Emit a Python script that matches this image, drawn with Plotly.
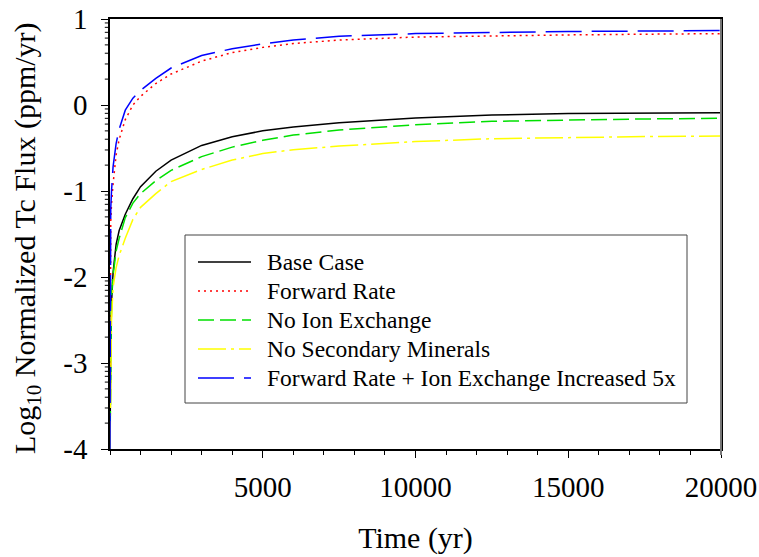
import math
import plotly.graph_objects as go

# ---------------- data (log10 of normalized Tc flux, ppm/yr) ----------------
time_yr = [0, 10, 25, 50, 100, 200, 300, 500, 750, 1000, 1500, 2000, 3000,
           4000, 5000, 6000, 7500, 10000, 12500, 15000, 17500, 20000]

base_case = [-4.0, -3.2, -2.8, -2.3, -1.95, -1.62, -1.46, -1.27, -1.09, -0.95,
             -0.77, -0.64, -0.47, -0.37, -0.30, -0.255, -0.205, -0.15, -0.117,
             -0.10, -0.093, -0.09]

forward_rate = [-4.0, -1.8, -1.35, -1.15, -0.92, -0.58, -0.40, -0.17, 0.0, 0.10,
                0.25, 0.36, 0.51, 0.61, 0.67, 0.715, 0.755, 0.79, 0.805, 0.815,
                0.823, 0.83]

no_ion_exchange = [-4.0, -3.4, -2.9, -2.22, -1.98, -1.70, -1.55, -1.31, -1.14,
                   -1.03, -0.88, -0.76, -0.60, -0.49, -0.41, -0.35, -0.29,
                   -0.23, -0.19, -0.172, -0.162, -0.155]

no_secondary_minerals = [-4.0, -3.5, -3.0, -2.5, -2.12, -1.89, -1.75, -1.55,
                         -1.33, -1.19, -1.03, -0.89, -0.75, -0.64, -0.565,
                         -0.52, -0.478, -0.425, -0.392, -0.377, -0.367, -0.36]

fwd_ion_x5 = [-4.0, -1.6, -1.2, -1.0, -0.72, -0.45, -0.28, -0.06, 0.08, 0.17,
              0.31, 0.43, 0.575, 0.655, 0.71, 0.755, 0.80, 0.83, 0.845, 0.855,
              0.86, 0.865]

series_names = ["Base Case", "Forward Rate", "No Ion Exchange",
                "No Secondary Minerals",
                "Forward Rate + Ion Exchange Increased 5x"]

y_tick_vals = [-4, -3, -2, -1, 0, 1]
y_tick_text = ["-4", "-3", "-2", "-1", "0", "1"]
x_tick_vals = [5000, 10000, 15000, 20000]
x_tick_text = ["5000", "10000", "15000", "20000"]

x_title = "Time (yr)"
y_title = "Log<sub>10</sub> Normalized Tc Flux (ppm/yr)"

# ---------------- styling ----------------
FONT = "Tinos, Nimbus Roman, FreeSerif, Noto Serif, DejaVu Serif"
styles = [
    dict(color="black", width=1.5, dash="solid"),
    dict(color="#ff0000", width=1.5, dash="2px,4px"),
    dict(color="#00e000", width=1.5, dash="16px,6px"),
    dict(color="#ffff00", width=1.5, dash="28px,5px,3px,5px"),
    dict(color="#0000ff", width=1.5, dash="36px,10px"),
]
all_series = [base_case, forward_rate, no_ion_exchange, no_secondary_minerals,
              fwd_ion_x5]

fig = go.Figure()
for name, vals, st in zip(series_names, all_series, styles):
    fig.add_trace(go.Scatter(x=time_yr, y=vals, mode="lines", name=name,
                             line=st, showlegend=False))

# plot-area geometry in pixels (used only to place the key box and titles)
L, R, T, B = 110, 721, 19, 449
def px(xp):
    return (xp - L) / (R - L)
def py(yp):
    return 1 - (yp - T) / (B - T)

shapes = []
# log-style minor ticks on the y axis
for d in range(-4, 1):
    for k in range(2, 10):
        yv = d + math.log10(k)
        shapes.append(dict(type="line", xref="paper", yref="y",
                           x0=-0.0085, x1=0, y0=yv, y1=yv,
                           line=dict(color="black", width=1)))

# gray right frame edge as in the original
shapes.append(dict(type="line", xref="paper", yref="paper",
                   x0=1, x1=1, y0=py(455), y1=1,
                   line=dict(color="#777", width=2)))

# key box
shapes.append(dict(type="rect", xref="paper", yref="paper",
                   x0=px(185), x1=px(687), y0=py(403), y1=py(235),
                   line=dict(color="#444", width=1), fillcolor="white",
                   layer="above"))
annotations = []
for i, (name, st) in enumerate(zip(series_names, styles)):
    row = 262 + 29 * i
    shapes.append(dict(type="line", xref="paper", yref="paper",
                       x0=px(198), x1=px(251), y0=py(row), y1=py(row),
                       line=dict(color=st["color"], width=st["width"],
                                 dash=st["dash"]), layer="above"))
    annotations.append(dict(text=name, xref="paper", yref="paper",
                            x=px(265), y=py(row), xanchor="left",
                            yanchor="middle", showarrow=False,
                            font=dict(family=FONT, size=23.5, color="black")))

# y-axis title
annotations.append(dict(text=y_title, xref="paper", yref="paper",
                        x=px(27), y=py(238), xanchor="center",
                        yanchor="middle", textangle=-90, showarrow=False,
                        font=dict(family=FONT, size=30, color="black")))

fig.update_layout(
    width=759, height=557,
    margin=dict(l=L, r=759 - R, t=T, b=557 - B, autoexpand=False),
    paper_bgcolor="white", plot_bgcolor="white",
    font=dict(family=FONT, color="black", size=29),
    showlegend=False,
    shapes=shapes,
    annotations=annotations,
    xaxis=dict(
        range=[0, 20000], showgrid=False, zeroline=False, automargin=False,
        showline=True, linecolor="black", linewidth=1.5, mirror=True,
        tickmode="array", tickvals=x_tick_vals, ticktext=x_tick_text,
        ticks="outside", ticklen=7, tickwidth=1, tickcolor="black",
        ticklabelstandoff=4,
        minor=dict(dtick=1000, tick0=0, ticks="outside", ticklen=4,
                   tickwidth=1, tickcolor="black", showgrid=False),
        tickfont=dict(family=FONT, size=29),
        title=dict(text=x_title, font=dict(family=FONT, size=30),
                   standoff=25),
    ),
    yaxis=dict(
        range=[-4, 1], showgrid=False, zeroline=False, automargin=False,
        showline=True, linecolor="black", linewidth=1.5, mirror=True,
        tickmode="array", tickvals=y_tick_vals, ticktext=y_tick_text,
        ticks="outside", ticklen=7, tickwidth=1, tickcolor="black",
        ticklabelstandoff=8,
        tickfont=dict(family=FONT, size=29),
    ),
)

fig.write_html("out.html")
